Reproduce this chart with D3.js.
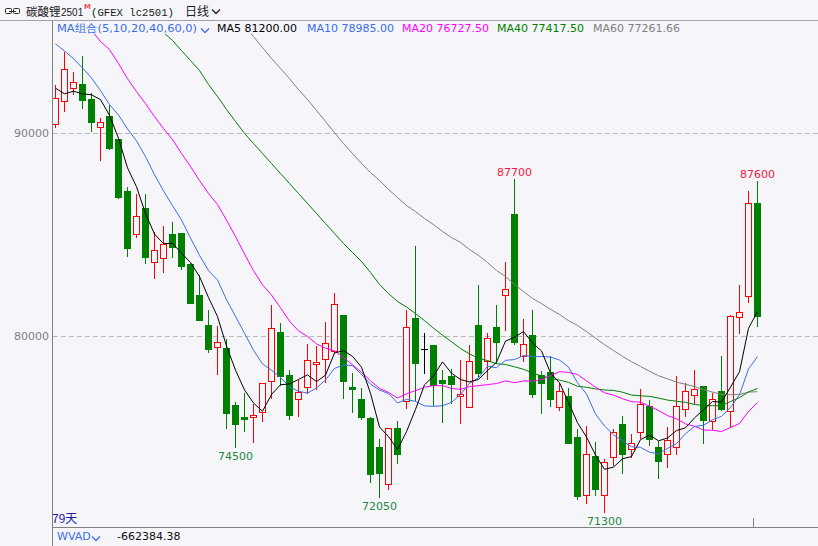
<!DOCTYPE html>
<html><head><meta charset="utf-8">
<script src="https://cdn.jsdelivr.net/npm/d3@7/dist/d3.min.js"></script>
<style>
body{margin:0;background:#f5f5fa;}
svg{display:block;}
</style></head>
<body><svg id="c" width="818" height="546"></svg>
<script>
// ---------------- data ----------------
const opens  = [90400,91570,92180,92390,91650,90290,90810,89680,87130,84990,
                86280,83610,83800,85000,85060,83520,82000,80520,79450,79400,
                76580,75970,76000,76220,77770,80170,78050,76890,77450,78580,
                78830,79250,81010,77460,76870,75950,74510,72670,75430,76770,
                80860,79320,79530,77810,78000,77030,76490,80520,78740,80420,
                81980,85990,79000,80020,78050,78220,76490,77020,75000,72130,
                74060,72140,74000,75640,74390,75260,76530,74490,74150,74490,
                76360,77050,77510,75800,77270,76300,80930,81960,86510];
const highs  = [92340,93950,92990,93770,91930,90700,91350,89700,87300,86970,
                86970,85110,85390,85610,85060,83560,82980,81260,80470,79830,
                76710,77150,76610,77650,81500,80600,78300,77810,79580,79480,
                80680,82090,81010,78170,77430,76000,74900,75460,75790,81260,
                84410,80110,79530,78300,78340,78790,79530,82490,80110,81500,
                83610,87700,80800,81260,78250,78990,77650,77400,75380,75540,
                74770,73920,75380,76030,75130,77350,76820,74820,75510,78000,
                77650,78300,77510,77150,78990,81010,82490,87120,87600];
const lows   = [90290,91070,91880,91190,90070,88650,89200,86790,83930,84870,
                83560,82820,83140,83880,83260,81590,80760,79170,78090,75460,
                74500,75310,74740,75790,76910,77560,75890,76050,77150,77350,
                77720,79200,76940,76250,75870,72800,72050,72420,73700,76440,
                76820,78140,76580,75750,76660,75700,76490,77970,77840,78660,
                80270,79580,78760,76990,76170,76530,76330,74690,71930,71770,
                72140,71300,73620,73210,74000,74940,74610,72970,73540,74160,
                76030,76660,74720,75380,76330,75510,80110,81670,80470];
const closes = [91680,93130,92470,91600,90530,90500,89250,86840,84300,85870,
                83880,84210,84490,84370,83440,81590,80760,79320,79670,76200,
                75630,75900,76080,77650,80350,78020,76080,77200,78780,78680,
                79620,81540,77770,77380,76000,73190,73240,75430,74180,80400,
                78660,79320,77560,77680,77610,77100,78740,78170,79860,79690,
                82280,79690,79570,77100,77680,76860,77270,74720,72110,74150,
                72440,73750,75260,74160,74690,76610,74890,73830,74850,76530,
                77270,77350,75850,76860,76390,80960,81140,86530,80980];

// moving-average values before enough visible history exists
const ma5HeadStart = 0,  ma5Head  = [92210,91930,92060,91930];
const ma10HeadStart = 0, ma10Head = [94390,94040,93660,93200,92710,92090,91400,90890,90200];
const ma20HeadStart = 4, ma20Head = [95050,94510,94110,93420,92680,92040,91450,90810,90220,
                                     89680,88990,88350,87660,87020,86480];
const ma40HeadStart = 12, ma40Head = [94950,94560,94060,93570,93080,92390,91800,91160,90570,
                                      89980,89480,88990,88500,88000,87510,87020,86530,86030,
                                      85540,85050,84560,84110,83670,83130,82540,82090,81700];
const ma60HeadStart = 21, ma60Head = [95250,94750,94210,93670,93180,92680,92140,91650,91110,
                                      90570,90020,89480,88990,88500,88050,87660,87220,86820,
                                      86430,86130,85790,85490,85150,84850,84610,84260,83970,
                                      83620,83230,82930,82540,82190,81850,81600,81310,81060,
                                      80760,80520];
const maPeriods = [5,10,20,40,60];
const maColors  = ["#000000","#3a6ee8","#ff00ff","#008000","#808080"];
const maLegendValues = ["81200.00","78985.00","76727.50","77417.50","77261.66"];
const yTicks = [80000, 90000];
const highLabelIdx = [51, 78];
const lowLabelIdx  = [20, 36, 61];
const dayCountLabel = "79天";
const wvadValue = "-662384.38";

// ---------------- drawing ----------------
const W = 818, H = 546;
const bg = "#f5f5fa";
const svg = d3.select("#c");
svg.append("rect").attr("width",W).attr("height",H).attr("fill",bg);

const n = closes.length;
const x = d3.scaleLinear().domain([0, n-1]).range([55, 757]);
const y = d3.scaleLinear().domain([80000, 90000]).range([335.5, 132.5]);
const px = i => Math.round(x(i));
const py = v => Math.round(y(v));

svg.append("defs").append("clipPath").attr("id","plot")
  .append("rect").attr("x",53).attr("y",34).attr("width",W-53).attr("height",527-34);

// grid
svg.append("g").selectAll("line").data(yTicks).join("line")
  .attr("x1",53).attr("x2",W)
  .attr("y1",d=>py(d)+0.5).attr("y2",d=>py(d)+0.5)
  .attr("stroke","#b8b8b8").attr("stroke-dasharray","5,3");

// y axis labels via d3 axis
const yAxis = d3.axisLeft(y).tickValues(yTicks).tickSize(0).tickPadding(3).tickFormat(d3.format("d"));
const ga = svg.append("g").attr("transform","translate(52,0)").call(yAxis);
ga.select(".domain").remove();
ga.selectAll("text").attr("fill","#808080").style("font-family","DejaVu Sans").style("font-size","11px");

// frame lines
svg.append("line").attr("x1",0).attr("x2",W).attr("y1",20.5).attr("y2",20.5).attr("stroke","#a0a0a8");
svg.append("line").attr("x1",52.5).attr("x2",52.5).attr("y1",21).attr("y2",H).attr("stroke","#808080");
svg.append("line").attr("x1",52).attr("x2",W).attr("y1",527.5).attr("y2",527.5).attr("stroke","#808080");
svg.append("line").attr("x1",753.5).attr("x2",753.5).attr("y1",518).attr("y2",527).attr("stroke","#808080");

const plot = svg.append("g").attr("clip-path","url(#plot)");

// candles
const data = d3.range(n).map(i=>({i,o:opens[i],h:highs[i],l:lows[i],c:closes[i]}));
const cg = plot.append("g");
data.forEach(d=>{
  const cx = px(d.i);
  const up = d.c > d.o, flat = d.c === d.o;
  const col = flat ? "#000000" : (up ? "#ff0000" : "#008000");
  cg.append("line").attr("x1",cx+0.5).attr("x2",cx+0.5)
    .attr("y1",py(d.h)).attr("y2",py(d.l)+1).attr("stroke",col);
  const yt = py(Math.max(d.o,d.c)), yb = py(Math.min(d.o,d.c));
  if (flat) {
    cg.append("line").attr("x1",cx-3).attr("x2",cx+4).attr("y1",yt+0.5).attr("y2",yt+0.5).attr("stroke",col);
  } else if (up) {
    cg.append("rect").attr("x",cx-2.5).attr("y",yt+0.5).attr("width",6).attr("height",Math.max(1,yb-yt))
      .attr("fill",bg).attr("stroke",col);
  } else {
    cg.append("rect").attr("x",cx-3).attr("y",yt).attr("width",7).attr("height",Math.max(1,yb-yt+1))
      .attr("fill",col);
  }
});

// moving averages
function maSeries(p, headStart, head){
  const out = new Array(n).fill(null);
  head.forEach((v,k)=>{ out[headStart+k] = v; });
  for (let i=p-1;i<n;i++) out[i] = d3.mean(closes.slice(i-p+1,i+1));
  return out;
}
const heads = [[ma5HeadStart,ma5Head],[ma10HeadStart,ma10Head],[ma20HeadStart,ma20Head],
               [ma40HeadStart,ma40Head],[ma60HeadStart,ma60Head]];
const line = d3.line().defined(d=>d.v!=null).x(d=>x(d.i)+0.5).y(d=>y(d.v)+0.5);
maPeriods.slice().reverse().forEach((p,ri)=>{
  const k = maPeriods.length-1-ri;
  const s = maSeries(p, heads[k][0], heads[k][1]).map((v,i)=>({i,v}));
  plot.append("path").attr("d",line(s)).attr("fill","none")
    .attr("stroke",maColors[k]).attr("stroke-width",1);
});

// extreme labels
const lab = svg.append("g").style("font-family","DejaVu Sans").style("font-size","11px").attr("text-anchor","middle");
highLabelIdx.forEach(i=>{
  lab.append("text").attr("x",px(i)+0.5).attr("y",py(highs[i])-3).attr("fill","#f0183c").text(highs[i]);
});
lowLabelIdx.forEach(i=>{
  lab.append("text").attr("x",px(i)+0.5).attr("y",py(lows[i])+13).attr("fill","#1e8a3c").text(lows[i]);
});

// title bar
const t = svg.append("g");
t.append("rect").attr("x",5.5).attr("y",8.5).attr("width",6).attr("height",5).attr("rx",1).attr("fill","none").attr("stroke","#303030");
t.append("rect").attr("x",13.5).attr("y",8.5).attr("width",6).attr("height",5).attr("rx",1).attr("fill","none").attr("stroke","#303030");
t.append("line").attr("x1",9).attr("x2",16).attr("y1",11.5).attr("y2",11.5).attr("stroke","#303030");
t.append("text").attr("x",26).attr("y",16).style("font-family","Noto Sans CJK SC").style("font-size","11.5px")
  .attr("fill","#202020").text("碳酸锂");
t.append("text").attr("x",61).attr("y",16).style("font-family","Liberation Sans").style("font-size","10px")
  .attr("fill","#202020").text("2501");
t.append("text").attr("x",84).attr("y",9).style("font-family","DejaVu Sans").style("font-size","7px").style("font-weight","bold").attr("fill","#e85050").text("M");
t.append("text").attr("x",91).attr("y",16).style("font-family","Liberation Mono").style("font-size","11px")
  .attr("textLength",83).attr("lengthAdjust","spacingAndGlyphs").attr("fill","#202020").text("(GFEX lc2501)");
t.append("text").attr("x",185).attr("y",16).style("font-family","Noto Sans CJK SC").style("font-size","12px").attr("fill","#202020").text("日线");
t.append("path").attr("d","M212,9.5 L216,13.5 L220,9.5").attr("fill","none").attr("stroke","#202020").attr("stroke-width",1.3);

// legend
const lg = svg.append("g").style("font-family","DejaVu Sans").style("font-size","11px");
lg.append("rect").attr("x",53).attr("y",21).attr("width",W-53).attr("height",13).attr("fill",bg);
lg.append("text").attr("x",57).attr("y",32).attr("fill","#3a6ee8")
  .attr("textLength",140).attr("lengthAdjust","spacingAndGlyphs").text("MA组合(5,10,20,40,60,0)");
lg.append("path").attr("d","M201,28.5 L205,32.5 L209,28.5").attr("fill","none").attr("stroke","#3a6ee8").attr("stroke-width",1.3);
const legX = [217,307,402,497,593];
maPeriods.forEach((p,k)=>{
  lg.append("text").attr("x",legX[k]).attr("y",32).attr("fill",maColors[k])
    .text("MA"+p+" "+maLegendValues[k]);
});

// bottom
svg.append("text").attr("x",52).attr("y",523).style("font-family","Noto Sans CJK SC").style("font-size","12px").attr("fill","#2020a0").text(dayCountLabel);
const bt = svg.append("g").style("font-family","DejaVu Sans").style("font-size","11px");
bt.append("text").attr("x",57).attr("y",540).attr("fill","#3a6ee8").text("WVAD");
bt.append("path").attr("d","M92,536.5 L96,540.5 L100,536.5").attr("fill","none").attr("stroke","#3a6ee8").attr("stroke-width",1.3);
bt.append("text").attr("x",117).attr("y",540).attr("fill","#101010").text(wvadValue);
</script></body></html>
